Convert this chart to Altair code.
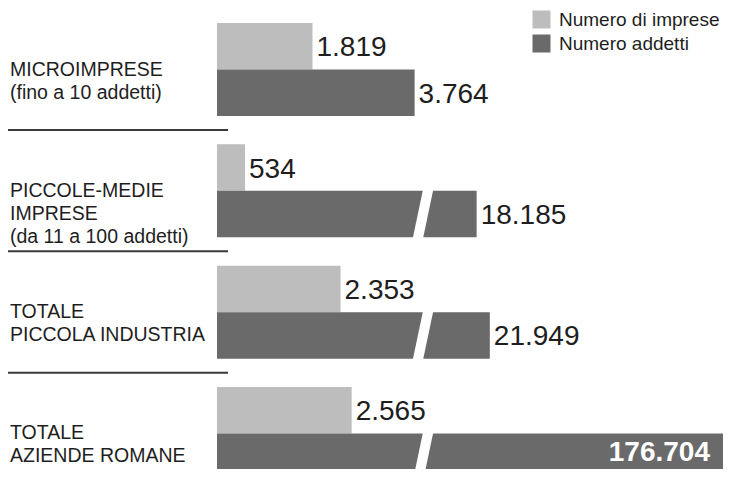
import altair as alt
import pandas as pd

# ---- data ----
categorie = [
    "MICROIMPRESE\n(fino a 10 addetti)",
    "PICCOLE-MEDIE\nIMPRESE\n(da 11 a 100 addetti)",
    "TOTALE\nPICCOLA INDUSTRIA",
    "TOTALE\nAZIENDE ROMANE",
]
serie = ["Numero di imprese", "Numero addetti"]
imprese = [1819, 534, 2353, 2565]
addetti = [3764, 18185, 21949, 176704]

# broken-axis knots (data space)
x_domain = [0, 4000, 24000, 176704]
break_value = 3924

colori = ["#bdbdbd", "#6a6a6a"]
FONT = "Liberation Sans"


def it_fmt(v):
    return f"{v:,}".replace(",", ".")


rows = []
for c, a, b in zip(categorie, imprese, addetti):
    rows.append({"cat": c, "serie": serie[0], "valore": a, "label": it_fmt(a)})
    rows.append({"cat": c, "serie": serie[1], "valore": b, "label": it_fmt(b)})
df = pd.DataFrame(rows)
df_cat = pd.DataFrame({"cat": categorie})
df_sep = pd.DataFrame({"cat": categorie[:-1]})
df_break = pd.DataFrame(
    [{"cat": c, "serie": serie[1], "valore": break_value} for c, b in zip(categorie, addetti) if b > x_domain[1]]
)

W, H = 715, 461

y_scale = alt.Scale(range=[15, 472], paddingInner=0.2333, paddingOuter=0)
y_enc = alt.Y("cat:N", sort=categorie, scale=y_scale, axis=None)
yoff = alt.YOffset("serie:N", sort=serie, scale=alt.Scale(paddingInner=0, paddingOuter=0))
x_enc = alt.X(
    "valore:Q",
    scale=alt.Scale(domain=x_domain, range=[209, 419, 489, 727], nice=False, zero=False),
    axis=None,
)

bars = alt.Chart(df).mark_bar(cornerRadius=0).encode(
    x=x_enc,
    y=y_enc,
    yOffset=yoff,
    color=alt.Color(
        "serie:N",
        sort=serie,
        scale=alt.Scale(domain=serie, range=colori),
        legend=alt.Legend(
            title=None,
            orient="none",
            legendX=524,
            legendY=2,
            symbolType="square",
            symbolSize=324,
            symbolStrokeWidth=0,
            symbolOpacity=1,
            labelFont=FONT,
            labelFontSize=19,
            labelColor="#1e1e1e",
            labelOffset=8,
            labelLimit=400,
            rowPadding=4,
            padding=0,
        ),
    ),
)

breaks = alt.Chart(df_break).mark_point(
    shape="M-0.42,1L0,1L0.42,-1L0,-1Z",
    filled=True,
    fill="white",
    strokeWidth=0,
    opacity=1,
    size=2401,
).encode(x=x_enc, y=y_enc, yOffset=yoff)

labels_out = alt.Chart(df).transform_filter("datum.valore < 100000").mark_text(
    align="left", baseline="middle", dx=4, dy=2, font=FONT, fontSize=28, color="#1e1e1e"
).encode(x=x_enc, y=y_enc, yOffset=yoff, text="label:N")

labels_in = alt.Chart(df).transform_filter("datum.valore >= 100000").mark_text(
    align="right", baseline="middle", dx=-25, dy=-4, font=FONT, fontSize=28, fontWeight="bold", color="white"
).encode(x=x_enc, y=y_enc, yOffset=yoff, text="label:N")

cat_text = alt.Chart(df_cat).mark_text(
    align="left", baseline="middle", lineBreak="\n", font=FONT, fontSize=19.5, lineHeight=23, color="#1e1e1e"
).encode(x=alt.value(2), y=y_enc, text="cat:N")

seps = alt.Chart(df_sep).mark_rule(stroke="#3a3a3a", strokeWidth=2, yOffset=14, y2Offset=14).encode(
    x=alt.value(0),
    x2=alt.value(220),
    y=alt.Y("cat:N", sort=categorie, bandPosition=1, scale=y_scale, axis=None),
)

chart = (
    alt.layer(bars, breaks, labels_out, labels_in, cat_text, seps)
    .properties(width=W, height=H, autosize=alt.AutoSizeParams(type="none"), padding=0, background="white")
    .configure_view(stroke=None)
)

chart.save("out.html", embed_options={"renderer": "svg", "actions": False})
